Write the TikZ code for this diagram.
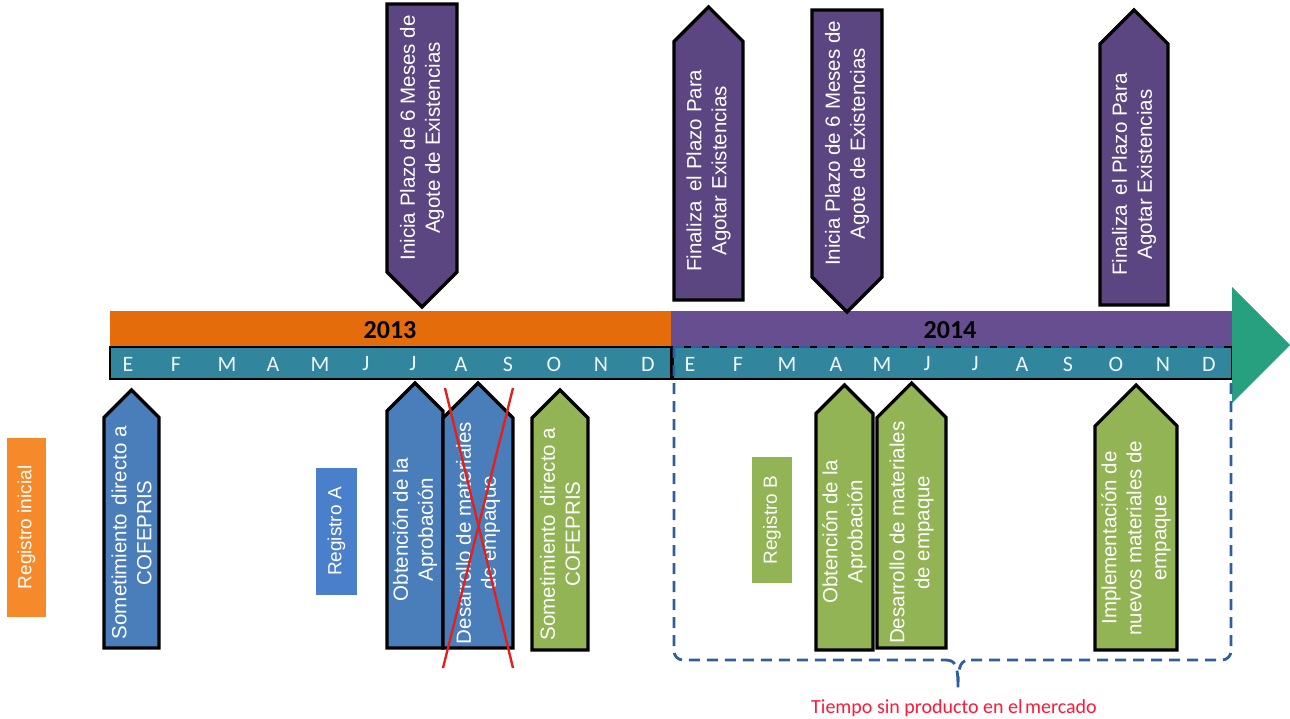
\documentclass[tikz,border=0pt]{standalone}
\usepackage{fontspec}
\setmainfont{Liberation Sans}
\newfontfamily\calibri{Carlito}
\definecolor{barorange}{HTML}{E46C0A}
\definecolor{barpurple}{HTML}{664E90}
\definecolor{markpurple}{HTML}{5C4682}
\definecolor{monthteal}{HTML}{31859C}
\definecolor{markblue}{HTML}{4A7EBB}
\definecolor{markgreen}{HTML}{93B455}
\definecolor{tagorange}{HTML}{F68A2B}
\definecolor{tagblue}{HTML}{4A7FCB}
\definecolor{taggreen}{HTML}{93B455}
\definecolor{arrowgreen}{HTML}{26A07F}
\definecolor{spanblue}{HTML}{2F5E9E}
\definecolor{crossred}{HTML}{E3211C}
\definecolor{notered}{HTML}{FF1838}
\tikzset{
  markline/.style={draw=black, line width=3.2pt, line join=miter},
  marktext/.style={rotate=90, align=center, text=white, inner sep=0pt,
    font=\fontsize{20.5}{25}\selectfont},
  tagbox/.style={rotate=90, text=white, inner sep=0pt, anchor=center,
    font=\fontsize{19}{23}\selectfont},
  month/.style={text=white!92!monthteal, inner sep=0pt,
    font=\calibri\fontsize{22}{26}\selectfont},
  yearlabel/.style={text=black, inner sep=0pt,
    font=\calibri\bfseries\fontsize{26}{30}\selectfont},
  spanline/.style={draw=spanblue, line width=2.8pt, dash pattern=on 11pt off 7pt},
  crossline/.style={draw=crossred, line width=2.4pt},
}
% marker pointing up: name, left, right, tip y, bottom y, fill, text
\newcommand{\upmarker}[7]{%
  \draw[markline, fill=#6] (#2,#5) -- (#2,{#4+(#3-#2)/2}) -- ({(#2+#3)/2},#4)
    -- (#3,{#4+(#3-#2)/2}) -- (#3,#5) -- cycle;
  \node[marktext] (#1) at ({(#2+#3)/2},{(#4+(#3-#2)/2+#5)/2}) {#7};}
% marker pointing down: name, left, right, top y, tip y, fill, text
\newcommand{\downmarker}[7]{%
  \draw[markline, fill=#6] (#2,#4) -- (#3,#4) -- (#3,{#5-(#3-#2)/2})
    -- ({(#2+#3)/2},#5) -- (#2,{#5-(#3-#2)/2}) -- cycle;
  \node[marktext] (#1) at ({(#2+#3)/2},{(#4+#5-(#3-#2)/2)/2}) {#7};}
\begin{document}
\begin{tikzpicture}[x=1pt, y=-1pt]
\useasboundingbox (0,0) rectangle (1290,719);

% year bars
\fill[barorange] (110,311) rectangle (671,347);
\fill[barpurple] (671,311) rectangle (1232,347);
\node[yearlabel] (y2013) at (390,330) {2013};
\node[yearlabel] (y2014) at (950,330) {2014};

% month bars
\draw[fill=monthteal, draw=black, line width=2pt] (110,347) rectangle (671,379);
\draw[fill=monthteal, draw=black, line width=2pt] (673,347) rectangle (1232,379);
\foreach \m/\x [count=\i] in {E/128,F/176,M/227,A/273,M/320,J/366,J/413,A/461,S/508,O/554,N/601,D/648}
  \node[month] (ma\i) at (\x,364) {\m};
\foreach \m/\x [count=\i] in {E/690,F/738,M/787,A/836,M/882,J/927,J/975,A/1022,S/1068,O/1116,N/1163,D/1209}
  \node[month] (mb\i) at (\x,364) {\m};

% arrow head of the time line
\fill[arrowgreen] (1232,287) -- (1290,345) -- (1232,403) -- cycle;

% span without product on the market
\draw[spanline] (673,347) -- (1231,347);
\draw[spanline, rounded corners=9pt] (674,347) -- (674,660) -- (945,660);
\draw[spanline] (945,660) .. controls (955,660) and (958,664) .. (958,688)
  .. controls (958,664) and (961,660) .. (971,660);
\draw[spanline, rounded corners=9pt] (971,660) -- (1231,660) -- (1231,380);
\node[text=notered, inner sep=0pt, anchor=base, font=\calibri\fontsize{20}{24}\selectfont]
  (gap) at (954,713) {Tiempo sin producto en el\hspace{-2pt} mercado};

% deadlines above the time line
\downmarker{inicia1}{387}{457}{4}{307}{markpurple}{Inicia Plazo de 6 Meses de\\Agote de Existencias}
\upmarker{finaliza1}{674}{743}{7}{300}{markpurple}{Finaliza\hspace{4pt} el Plazo Para\\Agotar Existencias}
\downmarker{inicia2}{812}{882}{10}{312}{markpurple}{Inicia Plazo de 6 Meses de\\Agote de Existencias}
\upmarker{finaliza2}{1100}{1168}{10}{305}{markpurple}{Finaliza\hspace{4pt} el Plazo Para\\Agotar Existencias}

% registration tags
\fill[tagorange] (7,438) rectangle (46,617);
\node[tagbox] (reginicial) at (26.5,527.5) {Registro inicial};
\fill[tagblue] (316,468) rectangle (357,595);
\node[tagbox] (regA) at (336.5,531.5) {Registro A};
\fill[taggreen] (752,457) rectangle (792,583);
\node[tagbox] (regB) at (772,520) {Registro B};

% activities below the time line
\upmarker{somA}{104}{159}{390}{648}{markblue}{Sometimiento\hspace{3pt} directo a\\COFEPRIS}
\upmarker{obtA}{387}{443}{383}{648}{markblue}{Obtención de la\\Aprobación}
\upmarker{desA}{443}{513}{383}{648}{markblue}{Desarrollo de materiales\\de empaque}
\upmarker{somB}{532}{588}{390}{650}{markgreen}{Sometimiento\hspace{3pt} directo a\\COFEPRIS}
\upmarker{obtB}{816}{873}{385}{650}{markgreen}{Obtención de la\\Aprobación}
\upmarker{desB}{877}{946}{383}{648}{markgreen}{Desarrollo de materiales\\de empaque}
\upmarker{impB}{1095}{1177}{385}{650}{markgreen}{Implementación de\\nuevos materiales de\\empaque}

% cancelled step
\coordinate (xa) at (445,388);
\coordinate (xb) at (513,668);
\coordinate (xc) at (513,388);
\coordinate (xd) at (443,668);
\draw[crossline] (xa) -- (xb);
\draw[crossline] (xc) -- (xd);
\end{tikzpicture}
\end{document}
